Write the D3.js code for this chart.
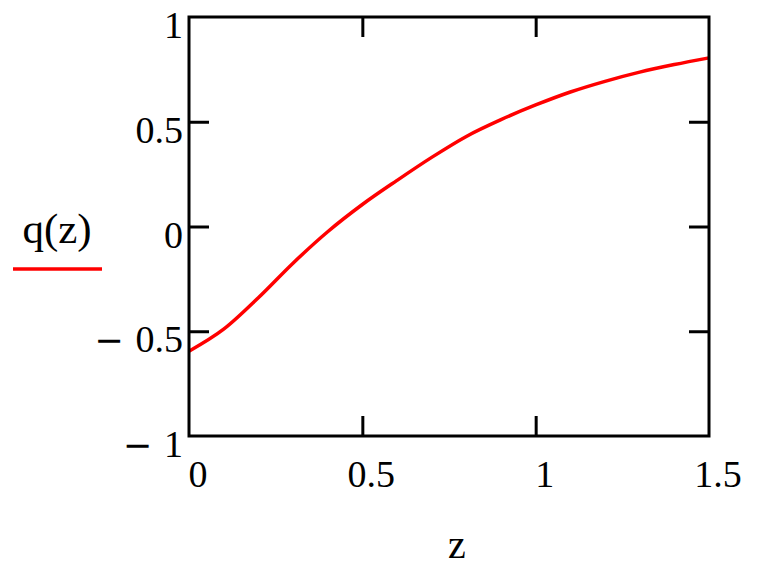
<!DOCTYPE html>
<html><head><meta charset="utf-8">
<script src="https://cdn.jsdelivr.net/npm/d3@7"></script>
<style>
body{margin:0;background:#fff;}
svg text{font-family:"Liberation Serif","Times New Roman",serif;fill:#000;}
</style></head>
<body><svg id="c" width="766" height="568"></svg>
<script>
const zValues = [0,0.1,0.2,0.3,0.4,0.5,0.6,0.7,0.8,0.9,1.0,1.1,1.2,1.3,1.4,1.5];
const qValues = [-0.595,-0.49,-0.34,-0.175,-0.025,0.105,0.22,0.33,0.43,0.51,0.58,0.642,0.693,0.737,0.773,0.805];
const xTicks = [0,0.5,1,1.5];
const xTickLabels = ["0","0.5","1","1.5"];
const yTicks = [-1,-0.5,0,0.5,1];
const yTickLabels = ["1","0.5","0","0.5","1"];
const yTickSigns = ["\u2212","\u2212","","",""];
const xLabel = "z";
const seriesLabel = "q(z)";

const svg = d3.select("#c");
const L=189,R=709,T=17,B=436;
const x = d3.scaleLinear().domain([0,1.5]).range([L,R]);
const y = d3.scaleLinear().domain([-1,1]).range([B,T]);

const inner = [0.5,1];
const innerY = [-0.5,0,0.5];
const styleTicks = g=>{g.select(".domain").remove(); g.selectAll("line").attr("stroke","#000").attr("stroke-width",3);};
svg.append("g").attr("transform",`translate(0,${B})`)
  .call(d3.axisBottom(x).tickValues(inner).tickSize(-20).tickFormat("")).call(styleTicks);
svg.append("g").attr("transform",`translate(0,${T})`)
  .call(d3.axisTop(x).tickValues(inner).tickSize(-20).tickFormat("")).call(styleTicks);
svg.append("g").attr("transform",`translate(${L},0)`)
  .call(d3.axisLeft(y).tickValues(innerY).tickSize(-20).tickFormat("")).call(styleTicks);
svg.append("g").attr("transform",`translate(${R},0)`)
  .call(d3.axisRight(y).tickValues(innerY).tickSize(-20).tickFormat("")).call(styleTicks);

// data line
const data = zValues.map((z,i)=>({z,q:qValues[i]}));
svg.append("path").datum(data)
  .attr("fill","none").attr("stroke","#ff0000").attr("stroke-width",3.5)
  .attr("d", d3.line().x(d=>x(d.z)).y(d=>y(d.q)).curve(d3.curveMonotoneX));

// frame
svg.append("rect").attr("x",L).attr("y",T).attr("width",R-L).attr("height",B-T)
  .attr("fill","none").attr("stroke","#000").attr("stroke-width",3);

// tick labels
svg.append("g").selectAll("text").data(xTicks).join("text")
  .attr("x",d=>x(d)+9).attr("y",487).attr("text-anchor","middle")
  .attr("font-size",38).text((d,i)=>xTickLabels[i]);
const yl = svg.append("g").selectAll("text").data(yTicks).join("text")
  .attr("x",183).attr("y",d=>y(d)+21).attr("text-anchor","end")
  .attr("font-size",38);
yl.each(function(d,i){
  const t = d3.select(this);
  if (yTickSigns[i]) {
    t.append("tspan").attr("font-family","DejaVu Sans").attr("font-size",35).text(yTickSigns[i]);
    t.append("tspan").attr("dx",12).text(yTickLabels[i]);
  } else {
    t.text(yTickLabels[i]);
  }
});

// axis title
svg.append("text").attr("x",457).attr("y",558).attr("text-anchor","middle")
  .attr("font-size",40).text(xLabel);

// legend
svg.append("text").attr("x",57).attr("y",243).attr("text-anchor","middle")
  .attr("font-size",43).text(seriesLabel);
svg.append("line").attr("x1",13).attr("x2",102).attr("y1",269).attr("y2",269)
  .attr("stroke","#ff0000").attr("stroke-width",3.5);
</script></body></html>
